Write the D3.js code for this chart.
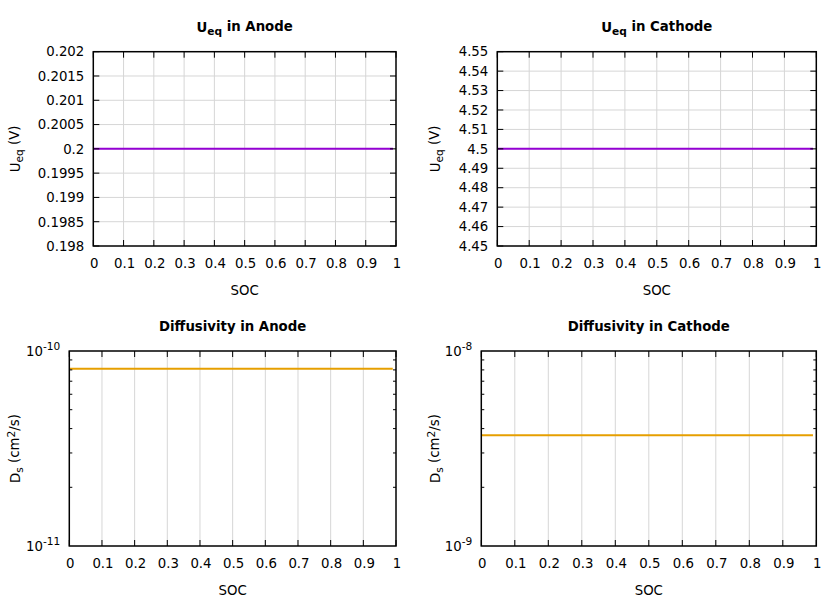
<!DOCTYPE html>
<html><head><meta charset="utf-8">
<script src="https://cdn.jsdelivr.net/npm/d3@7"></script>
<style>
body{margin:0;background:#fff;}
svg{display:block;}
</style></head><body>
<svg id="c" width="840" height="600" font-family="DejaVu Sans"></svg>
<script>
// ---- data ----
const soc = [0, 0.99];
const ueqAnode = [0.2, 0.2];
const ueqCathode = [4.5, 4.5];
const dsAnode = [8.1e-11, 8.1e-11];
const dsCathode = [3.7e-9, 3.7e-9];
const xTicks = [0,0.1,0.2,0.3,0.4,0.5,0.6,0.7,0.8,0.9,1];
const xTickLabels = ["0","0.1","0.2","0.3","0.4","0.5","0.6","0.7","0.8","0.9","1"];
const yTicksA = [0.198,0.1985,0.199,0.1995,0.2,0.2005,0.201,0.2015,0.202];
const yTickLabelsA = ["0.198","0.1985","0.199","0.1995","0.2","0.2005","0.201","0.2015","0.202"];
const yTicksB = [4.45,4.46,4.47,4.48,4.49,4.5,4.51,4.52,4.53,4.54,4.55];
const yTickLabelsB = ["4.45","4.46","4.47","4.48","4.49","4.5","4.51","4.52","4.53","4.54","4.55"];
const yDomC = [1e-11, 1e-10];
const yDomD = [1e-9, 1e-8];
const logTickExpC = ["-11","-10"];
const logTickExpD = ["-9","-8"];

const FONT = "DejaVu Sans";
const FS = 13.3, SUB = 10.6;
const svg = d3.select("#c");
const purple = "#9400d3", orange = "#e69f00", gridCol = "#d6d6d6";

function panel(o){
  const g = svg.append("g").attr("font-family",FONT);
  const x = d3.scaleLinear().domain([0,1]).range([o.l,o.r]);
  const y = o.log ? d3.scaleLog().domain(o.ydom).range([o.b,o.t])
                  : d3.scaleLinear().domain(o.ydom).range([o.b,o.t]);
  // grid
  g.selectAll(".gx").data(xTicks.slice(1,-1)).join("line")
    .attr("x1",d=>x(d)).attr("x2",d=>x(d)).attr("y1",o.t).attr("y2",o.b)
    .attr("stroke",gridCol).attr("stroke-width",1);
  if(!o.log){
    g.selectAll(".gy").data(o.yticks.slice(1,-1)).join("line")
      .attr("x1",o.l).attr("x2",o.r).attr("y1",d=>y(d)).attr("y2",d=>y(d))
      .attr("stroke",gridCol).attr("stroke-width",1);
  }
  // data line
  const line = d3.line().x((d,i)=>x(soc[i])).y(d=>y(d));
  g.append("path").datum(o.vals).attr("d",line).attr("fill","none")
    .attr("stroke",o.color).attr("stroke-width",2);
  // x axis ticks (bottom & top, inward)
  const tl = 6;
  g.selectAll(".xtb").data(xTicks).join("line")
    .attr("x1",d=>x(d)).attr("x2",d=>x(d)).attr("y1",o.b).attr("y2",o.b-tl)
    .attr("stroke","#000");
  g.selectAll(".xtt").data(xTicks).join("line")
    .attr("x1",d=>x(d)).attr("x2",d=>x(d)).attr("y1",o.t).attr("y2",o.t+tl)
    .attr("stroke","#000");
  g.selectAll(".xl").data(xTicks).join("text")
    .attr("x",d=>x(d)+1).attr("y",o.b+22).attr("text-anchor","middle")
    .attr("font-family",FONT).attr("font-size",FS).text((d,i)=>xTickLabels[i]);
  // y ticks
  if(!o.log){
    g.selectAll(".ytl").data(o.yticks).join("line")
      .attr("x1",o.l).attr("x2",o.l+tl).attr("y1",d=>y(d)).attr("y2",d=>y(d)).attr("stroke","#000");
    g.selectAll(".ytr").data(o.yticks).join("line")
      .attr("x1",o.r).attr("x2",o.r-tl).attr("y1",d=>y(d)).attr("y2",d=>y(d)).attr("stroke","#000");
    g.selectAll(".yl").data(o.yticks).join("text")
      .attr("x",o.l-9).attr("y",d=>y(d)).attr("dy","0.36em").attr("text-anchor","end")
      .attr("font-family",FONT).attr("font-size",FS).text((d,i)=>o.ylabels[i]);
  } else {
    const minor = y.ticks().filter(d=>d>o.ydom[0]*1.01 && d<o.ydom[1]*0.99);
    [[o.l,1],[o.r,-1]].forEach(([xx,s])=>{
      g.selectAll(null).data(minor).join("line")
        .attr("x1",xx).attr("x2",xx+s*3).attr("y1",d=>y(d)).attr("y2",d=>y(d)).attr("stroke","#000");
    });
    o.ydom.forEach((d,i)=>{
      const t = g.append("text").attr("x",o.l-9).attr("y",y(d)).attr("dy","0.36em")
        .attr("text-anchor","end").attr("font-family",FONT).attr("font-size",FS);
      t.append("tspan").text("10");
      t.append("tspan").attr("font-size",SUB).attr("dy","-0.55em").text(o.exps[i]);
    });
  }
  // frame
  g.append("rect").attr("x",o.l).attr("y",o.t).attr("width",o.r-o.l).attr("height",o.b-o.t)
    .attr("fill","none").attr("stroke","#000").attr("stroke-width",1.5);
  // title
  const cx = (o.l+o.r)/2;
  const tt = g.append("text").attr("x",cx).attr("y",o.t-20).attr("text-anchor","middle")
    .attr("font-family",FONT).attr("font-size",FS).attr("font-weight","bold");
  o.title(tt);
  // x label
  g.append("text").attr("x",cx).attr("y",o.b+49).attr("text-anchor","middle")
    .attr("font-family",FONT).attr("font-size",FS).text("SOC");
  // y label
  const cy = (o.t+o.b)/2;
  const yl = g.append("text").attr("transform",`translate(${o.ylx},${cy}) rotate(-90)`)
    .attr("text-anchor","middle").attr("font-family",FONT).attr("font-size",FS);
  o.ylab(yl);
}

function ueqTitle(where){ return t=>{
  t.append("tspan").text("U");
  t.append("tspan").attr("font-size",SUB).attr("dy","0.3em").text("eq");
  t.append("tspan").attr("dy","-0.27em").text(" in "+where);
};}
function ueqLab(t){
  t.append("tspan").text("U");
  t.append("tspan").attr("font-size",SUB).attr("dy","0.3em").text("eq");
  t.append("tspan").attr("dy","-0.25em").text(" (V)");
}
function dsLab(t){
  t.append("tspan").text("D");
  t.append("tspan").attr("font-size",SUB).attr("dy","0.3em").text("s");
  t.append("tspan").attr("dy","-0.25em").text(" (cm");
  t.append("tspan").attr("font-size",SUB).attr("dy","-0.45em").text("2");
  t.append("tspan").attr("dy","0.36em").text("/s)");
}

panel({l:93.3,r:396,t:51.7,b:246,ydom:[0.198,0.202],yticks:yTicksA,ylabels:yTickLabelsA,
  vals:ueqAnode,color:purple,title:ueqTitle("Anode"),ylab:ueqLab,ylx:19.5});
panel({l:497.3,r:816.3,t:51.7,b:246,ydom:[4.45,4.55],yticks:yTicksB,ylabels:yTickLabelsB,
  vals:ueqCathode,color:purple,title:ueqTitle("Cathode"),ylab:ueqLab,ylx:439.5});
panel({l:69.3,r:396,t:351,b:546,log:true,ydom:yDomC,exps:logTickExpC,
  vals:dsAnode,color:orange,title:t=>t.text("Diffusivity in Anode"),ylab:dsLab,ylx:19.5});
panel({l:481.3,r:816.3,t:351,b:546,log:true,ydom:yDomD,exps:logTickExpD,
  vals:dsCathode,color:orange,title:t=>t.text("Diffusivity in Cathode"),ylab:dsLab,ylx:439.5});
</script></body></html>
